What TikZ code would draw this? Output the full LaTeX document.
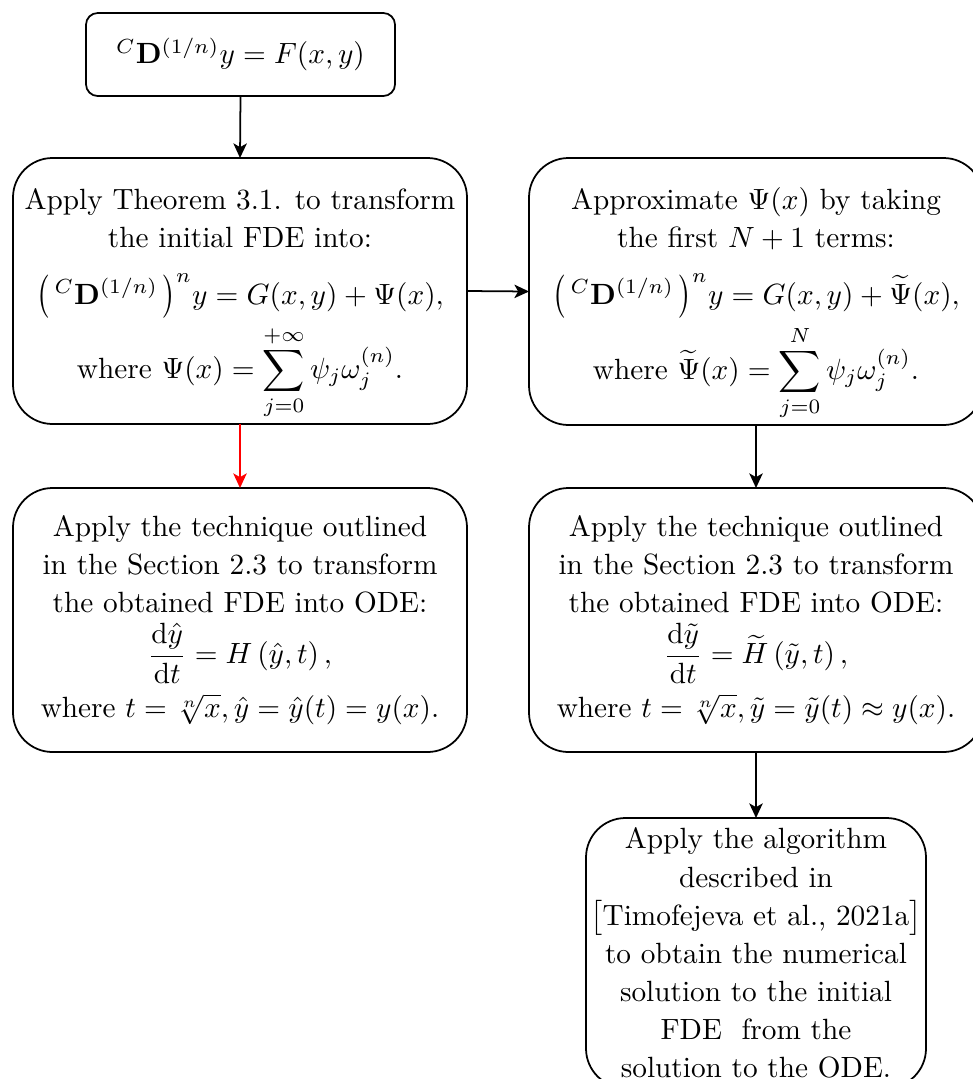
\documentclass[tikz,border=0pt]{standalone}
\usepackage{amsmath}
\usepackage{graphicx}
\usetikzlibrary{arrows.meta}
\newcommand\pxunit{0.3415}
\newcommand\bigLp{\mathopen{\vcenter{\hbox{\scalebox{1}[1.23]{$\bigl($}}}}}
\newcommand\bigRp{\mathclose{\vcenter{\hbox{\scalebox{1}[1.23]{$\bigr)$}}}}}
\newcommand\firstline{\rule{0pt}{16pt}}
\begin{document}
\begin{tikzpicture}[x=0.3415pt,y=-0.3415pt,
  box/.style={draw=black, line width=0.6pt, fill=white, align=center,
    inner sep=0pt, outer sep=0pt,
    font={\fontsize{10pt}{13pt}\selectfont},
    minimum width=454*\pxunit pt, minimum height=266*\pxunit pt,
    rounded corners=13.5pt},
  arr/.style={line width=0.6pt, -{Stealth[length=5pt,width=4.6pt,inset=1.3pt]}},
]
\path[use as bounding box] (0,0) rectangle (973,1079);

\node[box, minimum width=309*\pxunit pt, minimum height=83*\pxunit pt, rounded corners=4pt]
  (top) at (240.5,54.5) {$^{C}\mathbf{D}^{(1/n)}y = F(x,y)$};

\node[box] (L1) at (240,291) {\firstline Apply Theorem 3.1. to transform\\
  the initial FDE into:\\[6.5pt]
  $\bigLp\,{}^{C}\mathbf{D}^{(1/n)}\,\bigRp^{n} y = G(x,y) + \Psi(x),$\\[1.5pt]
  where $\displaystyle \Psi(x) = \sum_{j=0}^{+\infty}\psi_j\omega_j^{(n)}.$};

\node[box, minimum height=267*\pxunit pt] (R1) at (756,291.5) {\firstline Approximate $\Psi(x)$ by taking\\
  the first $N+1$ terms:\\[6.5pt]
  $\bigLp\,{}^{C}\mathbf{D}^{(1/n)}\,\bigRp^{n} y = G(x,y) + \widetilde{\Psi}(x),$\\[1.5pt]
  where $\displaystyle \widetilde{\Psi}(x) = \sum_{j=0}^{N}\psi_j\omega_j^{(n)}.$};

\node[box, minimum height=264*\pxunit pt] (L2) at (240,620) {Apply the technique outlined\\
  in the Section 2.3 to transform\\
  the obtained FDE into ODE:\\[2.5pt]
  $\dfrac{\mathrm{d}\hat{y}}{\mathrm{d}t} = H\left(\hat{y},t\right),$\\[2.5pt]
  where $t=\sqrt[n]{x}, \hat{y}=\hat{y}(t)=y(x).$};

\node[box, minimum height=264*\pxunit pt] (R2) at (756,620) {Apply the technique outlined\\
  in the Section 2.3 to transform\\
  the obtained FDE into ODE:\\[2.5pt]
  $\dfrac{\mathrm{d}\tilde{y}}{\mathrm{d}t} = \widetilde{H}\left(\tilde{y},t\right),$\\[2.5pt]
  where $t=\sqrt[n]{x}, \tilde{y}=\tilde{y}(t)\approx y(x).$};

\node[box, minimum width=340*\pxunit pt, minimum height=270*\pxunit pt] (B) at (756,953) {Apply the algorithm\\
  described in\\
  $\big[$Timofejeva et al., 2021a$\big]$\\
  to obtain the numerical\\
  solution to the initial\\
  FDE\ \ from the\\
  solution to the ODE.};

\draw[arr] (top.south) -- (L1.north);
\draw[arr, red] (L1.south) -- (L2.north);
\draw[arr] (L1.east) -- (R1.west);
\draw[arr] (R1.south) -- (R2.north);
\draw[arr] (R2.south) -- (B.north);
\end{tikzpicture}
\end{document}
